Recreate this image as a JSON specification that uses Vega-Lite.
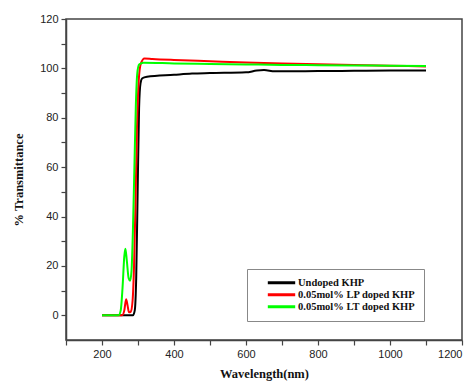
{
  "$schema": "https://vega.github.io/schema/vega-lite/v6.json",
  "width": 396,
  "height": 321,
  "autosize": {"type": "none"},
  "padding": {"left": 66, "top": 19, "right": 11, "bottom": 45},
  "background": "white",
  "config": {
    "view": {"stroke": "#444", "strokeWidth": 1.5},
    "axis": {
      "domainColor": "#444", "domainWidth": 1.5,
      "tickColor": "#444", "tickWidth": 1.2, "tickSize": 5,
      "labelFont": "Liberation Sans", "labelFontSize": 11, "labelColor": "#222",
      "titleFont": "Liberation Serif", "titleFontWeight": "bold", "titleFontSize": 12.5, "titleColor": "#111",
      "grid": false
    }
  },
  "data": {"values": [
    {"s": "Undoped KHP", "w": 200, "t": 0},
    {"s": "Undoped KHP", "w": 250, "t": 0},
    {"s": "Undoped KHP", "w": 286, "t": 0},
    {"s": "Undoped KHP", "w": 291, "t": 2},
    {"s": "Undoped KHP", "w": 295, "t": 15},
    {"s": "Undoped KHP", "w": 299, "t": 50},
    {"s": "Undoped KHP", "w": 303, "t": 84},
    {"s": "Undoped KHP", "w": 307, "t": 94},
    {"s": "Undoped KHP", "w": 312, "t": 96},
    {"s": "Undoped KHP", "w": 325, "t": 96.6},
    {"s": "Undoped KHP", "w": 400, "t": 97.4},
    {"s": "Undoped KHP", "w": 450, "t": 97.9},
    {"s": "Undoped KHP", "w": 500, "t": 98.1},
    {"s": "Undoped KHP", "w": 600, "t": 98.4},
    {"s": "Undoped KHP", "w": 630, "t": 99.1},
    {"s": "Undoped KHP", "w": 650, "t": 99.3},
    {"s": "Undoped KHP", "w": 680, "t": 98.8},
    {"s": "Undoped KHP", "w": 800, "t": 98.9},
    {"s": "Undoped KHP", "w": 900, "t": 99},
    {"s": "Undoped KHP", "w": 1000, "t": 99.1},
    {"s": "Undoped KHP", "w": 1100, "t": 99.1},
    {"s": "0.05mol% LP doped KHP", "w": 200, "t": 0},
    {"s": "0.05mol% LP doped KHP", "w": 256, "t": 0},
    {"s": "0.05mol% LP doped KHP", "w": 262, "t": 2},
    {"s": "0.05mol% LP doped KHP", "w": 267, "t": 6.5},
    {"s": "0.05mol% LP doped KHP", "w": 271, "t": 4},
    {"s": "0.05mol% LP doped KHP", "w": 275, "t": 1.2},
    {"s": "0.05mol% LP doped KHP", "w": 280, "t": 1.5},
    {"s": "0.05mol% LP doped KHP", "w": 285, "t": 6},
    {"s": "0.05mol% LP doped KHP", "w": 289, "t": 20},
    {"s": "0.05mol% LP doped KHP", "w": 293, "t": 45},
    {"s": "0.05mol% LP doped KHP", "w": 297, "t": 75},
    {"s": "0.05mol% LP doped KHP", "w": 302, "t": 95},
    {"s": "0.05mol% LP doped KHP", "w": 308, "t": 102},
    {"s": "0.05mol% LP doped KHP", "w": 318, "t": 104},
    {"s": "0.05mol% LP doped KHP", "w": 340, "t": 103.8},
    {"s": "0.05mol% LP doped KHP", "w": 400, "t": 103.4},
    {"s": "0.05mol% LP doped KHP", "w": 500, "t": 102.9},
    {"s": "0.05mol% LP doped KHP", "w": 600, "t": 102.4},
    {"s": "0.05mol% LP doped KHP", "w": 700, "t": 102},
    {"s": "0.05mol% LP doped KHP", "w": 800, "t": 101.7},
    {"s": "0.05mol% LP doped KHP", "w": 900, "t": 101.4},
    {"s": "0.05mol% LP doped KHP", "w": 1000, "t": 101.1},
    {"s": "0.05mol% LP doped KHP", "w": 1100, "t": 100.8},
    {"s": "0.05mol% LT doped KHP", "w": 200, "t": 0},
    {"s": "0.05mol% LT doped KHP", "w": 246, "t": 0},
    {"s": "0.05mol% LT doped KHP", "w": 252, "t": 2},
    {"s": "0.05mol% LT doped KHP", "w": 257, "t": 11},
    {"s": "0.05mol% LT doped KHP", "w": 262, "t": 24},
    {"s": "0.05mol% LT doped KHP", "w": 265, "t": 27},
    {"s": "0.05mol% LT doped KHP", "w": 269, "t": 22},
    {"s": "0.05mol% LT doped KHP", "w": 274, "t": 15},
    {"s": "0.05mol% LT doped KHP", "w": 278, "t": 14},
    {"s": "0.05mol% LT doped KHP", "w": 282, "t": 18},
    {"s": "0.05mol% LT doped KHP", "w": 286, "t": 35},
    {"s": "0.05mol% LT doped KHP", "w": 290, "t": 60},
    {"s": "0.05mol% LT doped KHP", "w": 294, "t": 85},
    {"s": "0.05mol% LT doped KHP", "w": 298, "t": 98},
    {"s": "0.05mol% LT doped KHP", "w": 303, "t": 101.6},
    {"s": "0.05mol% LT doped KHP", "w": 315, "t": 102.3},
    {"s": "0.05mol% LT doped KHP", "w": 400, "t": 102},
    {"s": "0.05mol% LT doped KHP", "w": 500, "t": 101.8},
    {"s": "0.05mol% LT doped KHP", "w": 600, "t": 101.6},
    {"s": "0.05mol% LT doped KHP", "w": 700, "t": 101.4},
    {"s": "0.05mol% LT doped KHP", "w": 800, "t": 101.3},
    {"s": "0.05mol% LT doped KHP", "w": 900, "t": 101.2},
    {"s": "0.05mol% LT doped KHP", "w": 1000, "t": 101.1},
    {"s": "0.05mol% LT doped KHP", "w": 1100, "t": 101}
  ]},
  "mark": {"type": "line", "strokeWidth": 2, "interpolate": "monotone", "clip": true},
  "encoding": {
    "x": {
      "field": "w", "type": "quantitative",
      "scale": {"domain": [100, 1200], "nice": false, "zero": false},
      "axis": {
        "title": "Wavelength(nm)",
        "format": "d",
        "values": [100, 200, 300, 400, 500, 600, 700, 800, 900, 1000, 1100, 1200],
        "labelExpr": "datum.value % 200 === 0 ? datum.label : ''",
        "labelPadding": 3,
        "titlePadding": 8
      }
    },
    "y": {
      "field": "t", "type": "quantitative",
      "scale": {"domain": [-10, 120], "nice": false, "zero": false},
      "axis": {
        "title": "% Transmittance",
        "values": [0, 10, 20, 30, 40, 50, 60, 70, 80, 90, 100, 110, 120],
        "labelExpr": "datum.value % 20 === 0 ? datum.label : ''",
        "labelPadding": 3,
        "titlePadding": 14
      }
    },
    "color": {
      "field": "s", "type": "nominal",
      "scale": {
        "domain": ["Undoped KHP", "0.05mol% LP doped KHP", "0.05mol% LT doped KHP"],
        "range": ["#000000", "#ff0000", "#00ff00"]
      },
      "legend": {
        "title": null,
        "orient": "none",
        "legendX": 181,
        "legendY": 250,
        "strokeColor": "#888",
        "padding": 8,
        "symbolType": "stroke",
        "symbolSize": 750,
        "symbolStrokeWidth": 3,
        "symbolOffset": 11,
        "clipHeight": 11.5,
        "labelFont": "Liberation Serif",
        "labelFontWeight": "bold",
        "labelFontSize": 10.5,
        "labelColor": "#111",
        "labelOffset": 1,
        "rowPadding": 0
      }
    }
  }
}
